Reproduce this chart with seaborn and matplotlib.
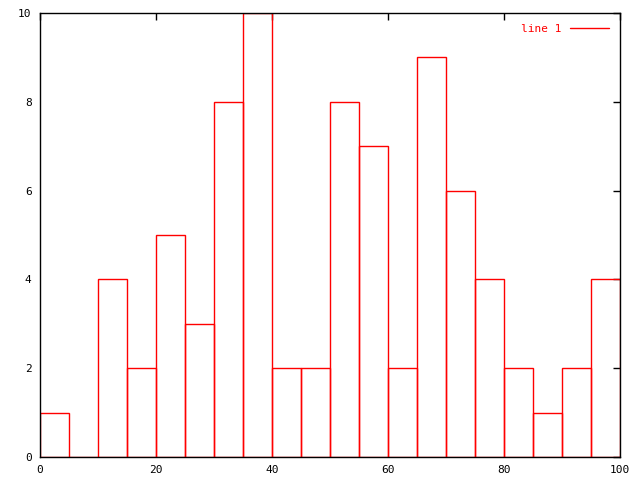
import numpy as np
import pandas as pd
import matplotlib
matplotlib.use('Agg')
import matplotlib.pyplot as plt
import seaborn as sns
from matplotlib.lines import Line2D

# histogram counts, bins of width 5 from 0 to 100
bin_edges = list(range(0, 105, 5))
counts = [1, 0, 4, 2, 5, 3, 8, 10, 2, 2, 8, 7, 2, 9, 6, 4, 2, 1, 2, 4]
centers = [e + 2.5 for e in bin_edges[:-1]]

df = pd.DataFrame({'x': centers, 'count': counts})

sns.set_style('white')
plt.rcParams['font.family'] = ['DejaVu Sans Mono']
plt.rcParams['font.size'] = 8

fig = plt.figure(figsize=(6.4, 4.8), dpi=100)
ax = fig.add_axes([40 / 640, 23 / 480, 580 / 640, 444 / 480])

sns.histplot(data=df, x='x', weights='count', bins=bin_edges, fill=False,
             color='red', linewidth=1, ax=ax)

ax.set_xlim(0, 100)
ax.set_ylim(0, 10)
ax.set_xticks(range(0, 101, 20))
ax.set_yticks(range(0, 11, 2))
ax.set_xlabel('')
ax.set_ylabel('')
for s in ax.spines.values():
    s.set_color('black')
    s.set_linewidth(1)
ax.tick_params(direction='in', top=True, right=True, length=5, width=1,
               labelsize=8, colors='black', pad=6)

handle = Line2D([], [], color='red', linewidth=1)
ax.legend([handle], ['line 1'], loc='upper right', frameon=False,
          markerfirst=False, labelcolor='red', fontsize=8,
          handlelength=3.5, borderaxespad=0.6)

fig.savefig('out.png', dpi=100)
